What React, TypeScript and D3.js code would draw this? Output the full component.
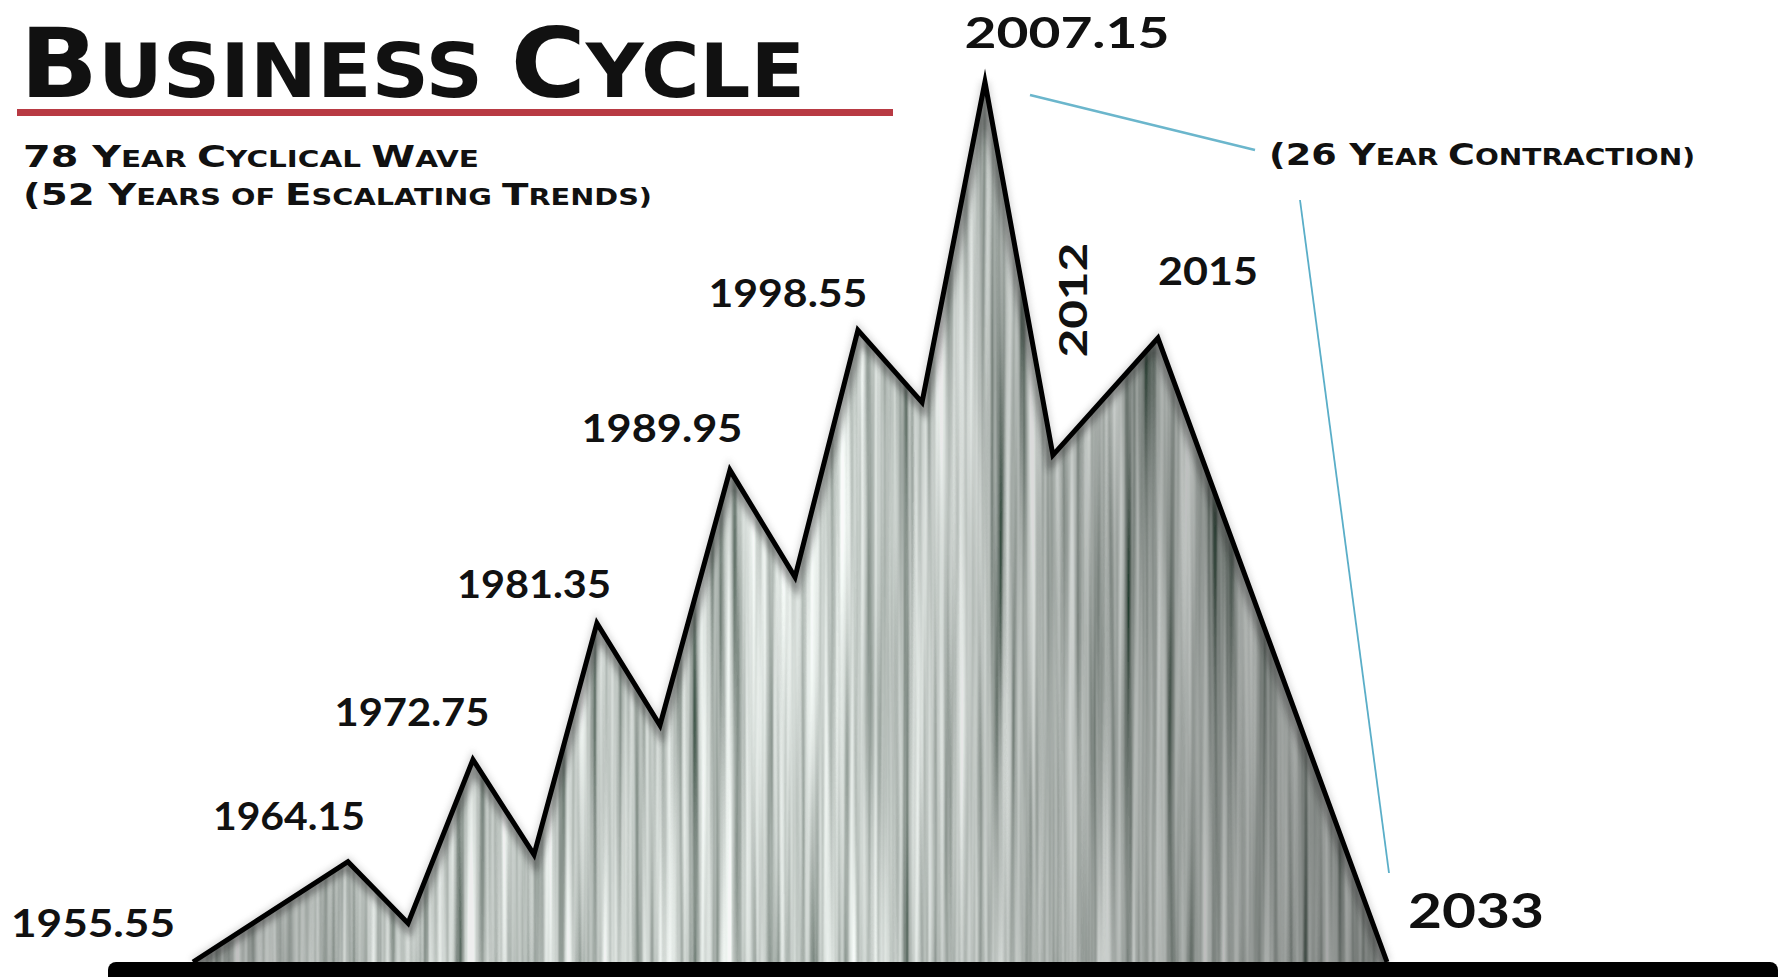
import React from "react";
import * as d3 from "d3";

// Cycle turning points (x position read as year, height as relative level 0-100)
const years = [1955.55, 1965.6, 1969.5, 1973.71, 1977.67, 1981.75, 1985.84, 1990.38, 1994.6, 1998.68, 2002.84, 2006.92, 2011.33, 2018.14, 2033];
const levels = [0, 11.4, 4.4, 23.0, 12.2, 38.5, 26.9, 55.9, 43.75, 71.8, 63.6, 100, 57.6, 70.9, 0];

// Labels attached to turning points
const labelTexts = ["1955.55", "1964.15", "1972.75", "1981.35", "1989.95", "1998.55", "2007.15", "2012", "2015", "2033"];
const labelPointIndex = [0, 1, 3, 5, 7, 9, 11, 12, 13, 14];

// layout of labels (offsets from point, style)
const labelLayout = [
  { dx: -18, dy: -25, anchor: "end", size: 39, len: 164, rot: 0 },
  { dx: -59, dy: -32, anchor: "middle", size: 39, len: 152, rot: 0 },
  { dx: -61, dy: -34, anchor: "middle", size: 39, len: 155, rot: 0 },
  { dx: -63, dy: -25, anchor: "middle", size: 39, len: 154, rot: 0 },
  { dx: -68, dy: -28, anchor: "middle", size: 39, len: 161, rot: 0 },
  { dx: -70, dy: -23, anchor: "middle", size: 39, len: 159, rot: 0 },
  { dx: 82, dy: -34, anchor: "middle", size: 42, len: 205, rot: 0 },
  { dx: 34, dy: -155, anchor: "middle", size: 38, len: 115, rot: -90 },
  { dx: 0, dy: -53, anchor: "start", size: 38, len: 100, rot: 0 },
  { dx: 21, dy: -34, anchor: "start", size: 48, len: 136, rot: 0 },
];

const W = 1790;
const H = 977;

type Part = [string, boolean]; // text, isBigCap

function SmallCaps({ x, y, parts, big, small, len }: { x: number; y: number; parts: Part[]; big: number; small: number; len: number }) {
  return (
    <text x={x} y={y} fontFamily="'DejaVu Sans', sans-serif" fontWeight="bold" fill="#111" textLength={len} lengthAdjust="spacingAndGlyphs">
      {parts.map((p, i) => (
        <tspan key={i} fontSize={p[1] ? big : small}>{p[0]}</tspan>
      ))}
    </text>
  );
}

export default function App() {
  const x = d3.scaleLinear().domain([1955.55, 2033]).range([193, 1387]);
  const y = d3.scaleLinear().domain([0, 100]).range([962, 82]);
  const pts = years.map((yr, i) => ({ year: yr, level: levels[i] }));
  const area = d3.area<any>().x((d) => x(d.year)).y0(y(0)).y1((d) => y(d.level));
  const line = d3.line<any>().x((d) => x(d.year)).y((d) => y(d.level));
  const areaD = area(pts) as string;
  const lineD = line(pts) as string;
  const rx0 = x(1955.55);
  const rw = x(2033) - x(1955.55);
  const ry0 = y(100) - 5;
  const rh = y(0) - y(100) + 10;

  return (
    <svg width={W} height={H} style={{ position: "absolute", left: 0, top: 0, background: "#fff" }}>
      <defs>
        <clipPath id="areaClip">
          <path d={areaD} />
        </clipPath>
        <filter id="streaks" x="0" y="0" width="100%" height="100%" filterUnits="objectBoundingBox">
          <feTurbulence type="fractalNoise" baseFrequency="0.09 0.0012" numOctaves={3} seed={11} result="noise" />
          <feColorMatrix in="noise" type="matrix" values="1.6 0 0 0 -0.2  1.6 0 0 0 -0.15  1.6 0 0 0 -0.18  0 0 0 0 1" />
        </filter>
        <linearGradient id="shade" x1="0" x2="1" y1="0" y2="0">
          <stop offset="0" stopColor="#000" stopOpacity="0.3" />
          <stop offset="0.15" stopColor="#000" stopOpacity="0.08" />
          <stop offset="0.55" stopColor="#000" stopOpacity="0.02" />
          <stop offset="0.8" stopColor="#000" stopOpacity="0.22" />
          <stop offset="1" stopColor="#000" stopOpacity="0.38" />
        </linearGradient>
        <filter id="glow" x="-5%" y="-5%" width="110%" height="110%">
          <feGaussianBlur stdDeviation="3" />
        </filter>
      </defs>

      {/* textured area */}
      <g clipPath="url(#areaClip)">
        <rect x={rx0} y={ry0} width={rw} height={rh} fill="#999" filter="url(#streaks)" />
        <rect x={rx0} y={ry0} width={rw} height={rh} fill="url(#shade)" />
        <path d={lineD} fill="none" stroke="#222" strokeWidth={16} opacity={0.4} filter="url(#glow)" />
      </g>
      <path d={lineD} fill="none" stroke="#888" strokeWidth={9} opacity={0.3} filter="url(#glow)" />
      <path d={lineD} fill="none" stroke="#000" strokeWidth={5} strokeLinejoin="miter" strokeMiterlimit={10} />

      {/* baseline bar */}
      <rect x={108} y={962} width={1670} height={30} rx={8} fill="#000" />

      {/* title */}
      <SmallCaps x={20} y={97} big={96} small={75} len={785} parts={[["B", true], ["USINESS ", false], ["C", true], ["YCLE", false]]} />
      <rect x={17} y={109} width={876} height={7} fill="#b83a43" />
      <SmallCaps x={23} y={167} big={31} small={23} len={456} parts={[["78 Y", true], ["EAR ", false], ["C", true], ["YCLICAL ", false], ["W", true], ["AVE", false]]} />
      <SmallCaps x={23} y={205} big={31} small={23} len={629} parts={[["(52 Y", true], ["EARS OF ", false], ["E", true], ["SCALATING ", false], ["T", true], ["RENDS)", false]]} />
      <SmallCaps x={1269} y={165} big={30} small={23} len={426} parts={[["(26 Y", true], ["EAR ", false], ["C", true], ["ONTRACTION)", false]]} />

      {/* annotation lines */}
      <line x1={1030} y1={95} x2={1255} y2={150} stroke="#6bb6cc" strokeWidth={2.5} />
      <line x1={1300} y1={200} x2={1389} y2={873} stroke="#5aaec8" strokeWidth={1.8} />

      {/* point labels */}
      {labelTexts.map((t, i) => {
        const p = pts[labelPointIndex[i]];
        const L = labelLayout[i];
        const px = x(p.year) + L.dx;
        const py = y(p.level) + L.dy;
        return (
          <text
            key={t}
            transform={`translate(${px},${py}) rotate(${L.rot})`}
            textAnchor={L.anchor as any}
            fontFamily="Lato, 'Open Sans', sans-serif"
            fontWeight={700}
            fontSize={L.size}
            fill="#111"
            textLength={L.len}
            lengthAdjust="spacingAndGlyphs"
          >
            {t}
          </text>
        );
      })}
    </svg>
  );
}
